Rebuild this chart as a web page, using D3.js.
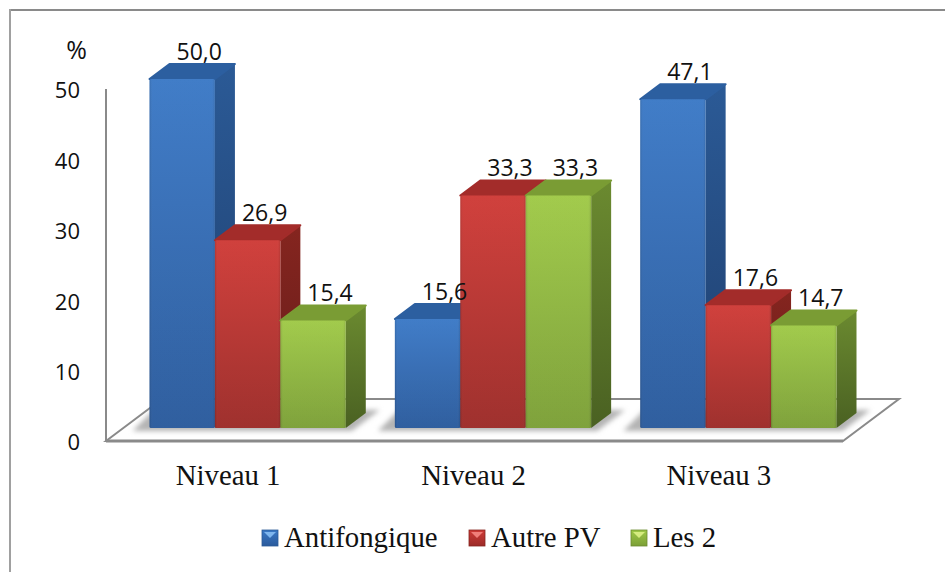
<!DOCTYPE html>
<html>
<head>
  <title>Niveaux</title>
  <script src="https://d3js.org/d3.v7.min.js"></script>
  <meta charset="utf-8">
  <style>
    body { margin: 0; background: #fff; }
    svg { display: block; }
    .num { font-family: "Open Sans", sans-serif; font-size: 23px; fill: #111; }
    .cat { font-family: "Liberation Serif", serif; font-size: 28.8px; fill: #111; }
    .axis .domain, .axis line { display: none; }
  </style>
</head>
<body>
  <svg id="chart" width="945" height="572"></svg>

  <script>
    const levels = ["Niveau 1", "Niveau 2", "Niveau 3"];
    const seriesNames = ["Antifongique", "Autre PV", "Les 2"];
    const antifongique = [50.0, 15.6, 47.1];
    const autrePV = [26.9, 33.3, 17.6];
    const les2 = [15.4, 33.3, 14.7];
    const yTicks = [0, 10, 20, 30, 40, 50];

    const seriesValues = [antifongique, autrePV, les2];

    const colors = [
      { top: "#2c5fa0", frontA: "#3b79c6", frontB: "#2a5a9c", sideA: "#2b5a96", sideB: "#1f3f6e", key: "#7fb6ee" },
      { top: "#a32c2a", frontA: "#cf3b37", frontB: "#9c2b28", sideA: "#85251f", sideB: "#651c1a", key: "#f07f7a" },
      { top: "#7a9c34", frontA: "#9fc947", frontB: "#7b9f36", sideA: "#6b8a30", sideB: "#4a6122", key: "#d6ec80" }
    ];

    const svg = d3.select("svg#chart");
    const defs = svg.append("defs");

    colors.forEach((c, i) => {
      const front = defs.append("linearGradient").attr("id", "front" + i).attr("x2", 0).attr("y2", 1);
      front.append("stop").attr("offset", 0).attr("stop-color", c.frontA);
      front.append("stop").attr("offset", 1).attr("stop-color", c.frontB);
      const side = defs.append("linearGradient").attr("id", "side" + i).attr("x2", 0).attr("y2", 1);
      side.append("stop").attr("offset", 0).attr("stop-color", c.sideA);
      side.append("stop").attr("offset", 1).attr("stop-color", c.sideB);
    });

    const bevel = defs.append("linearGradient").attr("id", "bevel");
    bevel.append("stop").attr("offset", 0).attr("stop-color", "#000").attr("stop-opacity", 0.12);
    bevel.append("stop").attr("offset", 0.05).attr("stop-color", "#fff").attr("stop-opacity", 0.03);
    bevel.append("stop").attr("offset", 0.95).attr("stop-color", "#fff").attr("stop-opacity", 0.03);
    bevel.append("stop").attr("offset", 1).attr("stop-color", "#000").attr("stop-opacity", 0.12);

    defs.append("filter").attr("id", "blur")
      .attr("x", "-30%").attr("y", "-30%").attr("width", "160%").attr("height", "160%")
      .append("feGaussianBlur").attr("stdDeviation", 2.5);

    // 3d offset of the bars
    const depthX = 20;
    const depthY = 15;
    const frameColor = "#8a8a8a";

    const yAxisScale = d3.scaleLinear().domain([0, 50]).range([441, 89]);
    const yBar = d3.scaleLinear().domain([0, 50]).range([428, 79]);
    const xGroup = d3.scaleBand().domain(levels).range([149.5, 836.5]).paddingInner(0.2);
    const xSeries = d3.scaleBand().domain(seriesNames).range([0, xGroup.bandwidth()]);

    // frame, only top and left
    svg.append("line").attr("x1", 9).attr("x2", 945).attr("y1", 10).attr("y2", 10)
      .attr("stroke", frameColor).attr("stroke-width", 2);
    svg.append("line").attr("x1", 10).attr("x2", 10).attr("y1", 9).attr("y2", 572)
      .attr("stroke", "#a0a0a0").attr("stroke-width", 2);

    // floor and wall
    svg.append("path")
      .attr("d", "M106,441 L162,399 L899,399 L843,441 Z")
      .attr("fill", "#fff").attr("stroke", frameColor).attr("stroke-width", 2);
    svg.append("line").attr("x1", 106).attr("x2", 843).attr("y1", 441).attr("y2", 441)
      .attr("stroke", frameColor).attr("stroke-width", 3);
    svg.append("line").attr("x1", 106).attr("x2", 106).attr("y1", 89).attr("y2", 442)
      .attr("stroke", frameColor).attr("stroke-width", 2);

    // shadows on the floor
    const shadows = svg.append("g").attr("filter", "url(#blur)");
    levels.forEach(level => {
      const x0 = xGroup(level);
      const x1 = x0 + xGroup.bandwidth();
      shadows.append("path")
        .attr("d", "M" + (x0 - 17) + ",431 L" + (x0 + 4) + ",410 L" + (x1 + 34) + ",410 L" + (x1 + 6) + ",431 Z")
        .attr("fill", "#b4b4b4");
    });

    // bars
    const barGroups = svg.selectAll("g.level").data(levels).join("g")
      .attr("class", "level")
      .attr("transform", d => "translate(" + xGroup(d) + ",0)");

    barGroups.each(function(level, li) {
      const g = d3.select(this);
      seriesNames.forEach((name, si) => {
        const value = seriesValues[si][li];
        const x = xSeries(name);
        const w = xSeries.bandwidth();
        const top = yBar(value);
        const base = yBar(0);

        g.append("path")
          .attr("d", "M" + (x + w) + "," + top + " L" + (x + w + depthX) + "," + (top - depthY) +
                     " L" + (x + w + depthX) + "," + (base - depthY) + " L" + (x + w) + "," + base + " Z")
          .attr("fill", "url(#side" + si + ")");

        g.append("path")
          .attr("d", "M" + x + "," + top + " L" + (x + depthX) + "," + (top - depthY) +
                     " L" + (x + w + depthX) + "," + (top - depthY) + " L" + (x + w) + "," + top + " Z")
          .attr("fill", colors[si].top)
          .attr("stroke", colors[si].top).attr("stroke-width", 2).attr("stroke-linejoin", "round");

        g.append("rect")
          .attr("x", x).attr("y", top).attr("width", w).attr("height", base - top)
          .attr("rx", 1.5)
          .attr("fill", "url(#front" + si + ")");
        g.append("rect")
          .attr("x", x).attr("y", top).attr("width", w).attr("height", base - top)
          .attr("rx", 1.5)
          .attr("fill", "url(#bevel)");
      });
    });

    // value labels, after the bars so they stay on top
    levels.forEach((level, li) => {
      seriesNames.forEach((name, si) => {
        const value = seriesValues[si][li];
        svg.append("text")
          .attr("class", "num")
          .attr("x", xGroup(level) + xSeries(name) + xSeries.bandwidth() / 2 + 17)
          .attr("y", yBar(value) - 19.5)
          .attr("text-anchor", "middle")
          .text(value.toFixed(1).replace(".", ","));
      });
    });

    // axes
    const leftAxis = d3.axisLeft(yAxisScale).tickValues(yTicks).tickSize(0).tickPadding(26).tickFormat(d3.format("d"));
    const gy = svg.append("g").attr("class", "axis").attr("transform", "translate(106,0)").call(leftAxis);
    gy.selectAll("text").attr("class", "num").attr("dy", "0.4em").style("font-size", "22px");
    gy.attr("font-family", null).attr("font-size", null);

    const bottomAxis = d3.axisBottom(xGroup).tickSize(0).tickPadding(0);
    const gx = svg.append("g").attr("class", "axis").attr("transform", "translate(-19.5,465)").call(bottomAxis);
    gx.selectAll("text").attr("class", "cat");
    gx.attr("font-family", null).attr("font-size", null);

    svg.append("text").attr("class", "num").attr("x", 76.5).attr("y", 59)
      .attr("text-anchor", "middle").style("font-size", "25px").text("%");

    // legend
    const legendX = [262, 469, 631];
    const keySize = 16;
    const legend = svg.selectAll("g.legend").data(seriesNames).join("g")
      .attr("class", "legend")
      .attr("transform", (d, i) => "translate(" + legendX[i] + ",530)");
    legend.append("rect")
      .attr("width", keySize).attr("height", keySize)
      .attr("fill", (d, i) => "url(#front" + i + ")")
      .attr("stroke", (d, i) => colors[i].sideA).attr("stroke-width", 0.8);
    legend.append("path")
      .attr("d", "M2,2 L14,2 L8,8 Z")
      .attr("fill", (d, i) => colors[i].key);
    legend.append("text")
      .attr("class", "cat")
      .attr("x", keySize + 6)
      .attr("y", keySize + 0.5)
      .text(d => d);
  </script>
</body>
</html>
